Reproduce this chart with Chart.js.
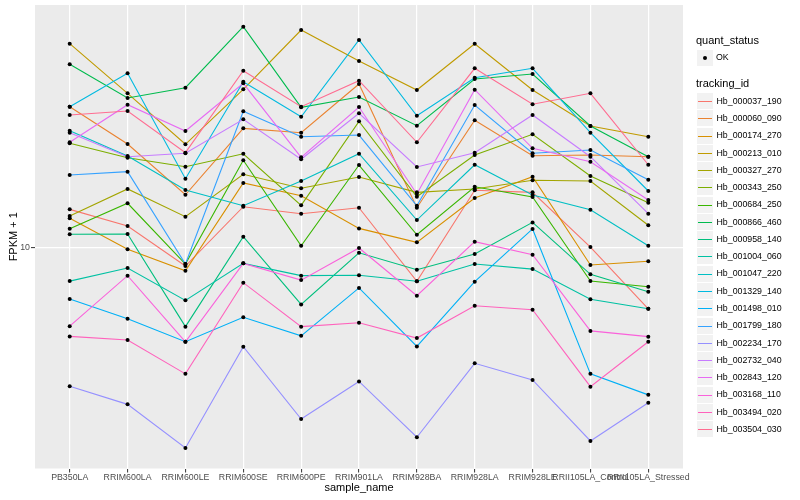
<!DOCTYPE html>
<html>
<head>
<meta charset="utf-8">
<script src="https://cdn.jsdelivr.net/npm/chart.js@4.4.0/dist/chart.umd.min.js"></script>
<style>
  body { margin: 0; background: #ffffff; }
  #wrap { position: relative; width: 800px; height: 500px; font-family: "Liberation Sans", Arial, sans-serif; }
  #chart { position: absolute; left: 0; top: 0; }
  .lg { position: absolute; white-space: nowrap; color: #000; }
  .key { position: absolute; width: 16px; height: 16px; background: #F2F2F2; }
</style>
</head>
<body>
<div id="wrap">
  <canvas id="chart" width="800" height="500"></canvas>
  <div id="legend"></div>
</div>
<script>
// categories on the x axis
const categories = ["PB350LA", "RRIM600LA", "RRIM600LE", "RRIM600SE", "RRIM600PE", "RRIM901LA",
  "RRIM928BA", "RRIM928LA", "RRIM928LE", "RRII105LA_Control", "RRII105LA_Stressed"];

// FPKM + 1 per tracking id, one value per sample
const hb_000037_190 = [12.72, 11.47, 8.94, 12.93, 12.38, 12.85, 8.13, 14.32, 14.14, 10.06, 6.85];
const hb_000060_090 = [24.09, 19.10, 13.93, 21.06, 20.49, 27.75, 12.85, 22.14, 17.76, 17.84, 17.65];
const hb_000174_270 = [12.03, 9.92, 8.68, 14.99, 13.85, 11.30, 10.36, 13.65, 15.59, 9.00, 9.21];
const hb_000213_010 = [35.66, 26.19, 19.07, 26.85, 38.83, 32.02, 26.73, 35.66, 26.73, 21.37, 19.99];
const hb_000327_270 = [12.20, 14.44, 12.15, 15.82, 14.50, 15.56, 14.14, 14.44, 15.24, 15.17, 11.52];
const hb_000343_250 = [19.19, 17.54, 16.59, 17.98, 13.04, 22.00, 13.76, 17.84, 20.29, 15.65, 13.26];
const hb_000684_250 = [11.28, 13.21, 9.05, 17.26, 10.14, 16.76, 10.86, 14.64, 13.74, 8.14, 7.86];
const hb_000866_460 = [31.37, 25.43, 27.12, 39.64, 24.00, 25.59, 21.41, 28.63, 29.53, 21.37, 17.65];
const hb_000958_140 = [10.89, 10.91, 6.13, 10.73, 7.04, 9.71, 8.74, 9.63, 11.73, 8.49, 7.62];
const hb_001004_060 = [8.14, 8.83, 7.22, 9.09, 8.42, 8.44, 8.13, 9.05, 8.77, 7.27, 6.85];
const hb_001047_220 = [20.75, 17.73, 14.35, 13.01, 15.17, 17.98, 11.90, 16.79, 13.91, 12.69, 10.14];
const hb_001329_140 = [24.09, 29.66, 15.39, 28.15, 22.64, 36.49, 22.78, 28.86, 30.60, 20.49, 14.26];
const hb_001498_010 = [7.28, 6.44, 5.58, 6.50, 5.79, 7.80, 5.42, 8.11, 11.26, 4.57, 4.01];
const hb_001799_180 = [15.75, 16.08, 9.05, 23.41, 19.99, 20.20, 13.01, 24.35, 18.03, 18.40, 15.30];
const hb_002234_170 = [4.23, 3.78, 2.88, 5.41, 3.45, 4.36, 3.08, 4.88, 4.40, 3.01, 3.82];
const hb_002732_040 = [20.49, 17.65, 18.03, 22.28, 17.37, 23.12, 16.56, 18.10, 22.88, 17.65, 12.38];
const hb_002843_120 = [19.31, 24.40, 20.71, 27.87, 17.58, 24.05, 13.99, 26.78, 18.60, 17.11, 13.48];
const hb_003168_110 = [6.15, 8.42, 5.58, 9.09, 8.19, 10.00, 7.43, 10.40, 9.59, 5.97, 5.76];
const hb_003494_020 = [5.77, 5.64, 4.57, 8.06, 6.13, 6.28, 5.71, 6.98, 6.81, 4.22, 5.58];
const hb_003504_030 = [22.88, 23.46, 18.10, 30.14, 24.09, 28.32, 19.31, 30.60, 24.46, 26.19, 16.79];

const trackingIds = ["Hb_000037_190", "Hb_000060_090", "Hb_000174_270", "Hb_000213_010", "Hb_000327_270",
  "Hb_000343_250", "Hb_000684_250", "Hb_000866_460", "Hb_000958_140", "Hb_001004_060",
  "Hb_001047_220", "Hb_001329_140", "Hb_001498_010", "Hb_001799_180", "Hb_002234_170",
  "Hb_002732_040", "Hb_002843_120", "Hb_003168_110", "Hb_003494_020", "Hb_003504_030"];

const seriesValues = [hb_000037_190, hb_000060_090, hb_000174_270, hb_000213_010, hb_000327_270,
  hb_000343_250, hb_000684_250, hb_000866_460, hb_000958_140, hb_001004_060,
  hb_001047_220, hb_001329_140, hb_001498_010, hb_001799_180, hb_002234_170,
  hb_002732_040, hb_002843_120, hb_003168_110, hb_003494_020, hb_003504_030];

// ggplot default hue palette for 20 levels
const seriesColors = ["#F8766D", "#EA8331", "#D89000", "#C09B00", "#A3A500", "#7CAE00", "#39B600",
  "#00BB4E", "#00BF7D", "#00C1A3", "#00BFC4", "#00BAE0", "#00B0F6", "#35A2FF", "#9590FF",
  "#C77CFF", "#E76BF3", "#FA62DB", "#FF62BC", "#FF6C91"];

const yTicks = [10];
const yMin = 2.536;
const yMax = 45.37;

const family = "'Liberation Sans', Arial, sans-serif";

// grey panel behind the plot
const panelBg = {
  id: "panelBg",
  beforeDraw(chart) {
    const { ctx, chartArea: a } = chart;
    ctx.save();
    ctx.fillStyle = "#EBEBEB";
    ctx.fillRect(a.left, a.top, a.right - a.left, a.bottom - a.top);
    ctx.restore();
  },
};

const datasets = trackingIds.map((id, i) => ({
  label: id,
  data: seriesValues[i].map((v, j) => ({ x: j, y: v })),
  borderColor: seriesColors[i],
  backgroundColor: seriesColors[i],
  borderWidth: 1.1,
  pointRadius: 0,
  tension: 0,
  fill: false,
  order: 100 - i,
}));

// the points layer (quant_status = OK) sits on top of all lines
datasets.push({
  type: "scatter",
  label: "OK",
  data: seriesValues.flatMap((vals) => vals.map((v, j) => ({ x: j, y: v }))),
  pointRadius: 2,
  pointBackgroundColor: "#000000",
  pointBorderWidth: 0,
  showLine: false,
  order: 0,
});

new Chart(document.getElementById("chart").getContext("2d"), {
  type: "line",
  data: { datasets },
  plugins: [panelBg],
  options: {
    responsive: false,
    animation: false,
    layout: { padding: { left: 0, right: 117, top: 5, bottom: 0 } },
    plugins: { legend: { display: false }, tooltip: { enabled: false } },
    scales: {
      x: {
        type: "linear",
        min: -0.6,
        max: 10.6,
        afterBuildTicks: (s) => { s.ticks = categories.map((c, i) => ({ value: i })); },
        afterFit: (s) => { s.height = 31.5; s.paddingLeft = 0; s.paddingRight = 0; },
        ticks: {
          autoSkip: false, maxRotation: 0, minRotation: 0, padding: 0,
          callback: (v) => categories[v],
          font: { size: 8.8, family }, color: "#4D4D4D",
        },
        grid: { color: "#FFFFFF", lineWidth: 1.2, drawTicks: true, tickLength: 4, tickColor: "#333333", tickWidth: 1 },
        border: { display: false },
        title: { display: true, text: "sample_name", font: { size: 11, family }, color: "#000000", padding: { top: 0, bottom: 5 } },
      },
      y: {
        type: "logarithmic",
        min: yMin,
        max: yMax,
        afterBuildTicks: (s) => { s.ticks = yTicks.map((v) => ({ value: v })); },
        afterFit: (s) => { s.width = 35; s.paddingTop = 0; s.paddingBottom = 0; },
        ticks: { padding: 1, callback: (v) => String(v), font: { size: 8.8, family }, color: "#4D4D4D" },
        grid: { color: "#FFFFFF", lineWidth: 1.2, drawTicks: true, tickLength: 4, tickColor: "#333333", tickWidth: 1 },
        border: { display: false },
        title: { display: true, text: "FPKM + 1", font: { size: 11, family }, color: "#000000", padding: { top: 7, bottom: 0 } },
      },
    },
  },
});

// legend on the right, laid out like ggplot's guide boxes
const legend = document.getElementById("legend");
const addText = (txt, left, cy, size) => {
  const d = document.createElement("div");
  d.className = "lg";
  d.textContent = txt;
  d.style.left = left + "px";
  d.style.top = (cy - size * 0.6) + "px";
  d.style.fontSize = size + "px";
  d.style.lineHeight = (size * 1.2) + "px";
  legend.appendChild(d);
};
const addKey = (cy) => {
  const k = document.createElement("div");
  k.className = "key";
  k.style.left = "697px";
  k.style.top = Math.round(cy - 8) + "px";
  legend.appendChild(k);
  return k;
};

addText("quant_status", 696, 40.5, 11);
const okKey = addKey(57.5);
const dot = document.createElement("div");
dot.style.cssText = "position:absolute;left:6px;top:6px;width:4px;height:4px;border-radius:2px;background:#000;";
okKey.appendChild(dot);
addText("OK", 716, 57.5, 8.8);

addText("tracking_id", 696, 84, 11);
trackingIds.forEach((id, i) => {
  const cy = 101 + i * 17.27;
  const k = addKey(cy);
  const ln = document.createElement("div");
  ln.style.cssText = "position:absolute;left:1px;top:8px;width:14px;height:1px;background:" + seriesColors[i] + ";";
  k.appendChild(ln);
  addText(id, 716.5, cy, 8.8);
});
</script>
</body>
</html>
